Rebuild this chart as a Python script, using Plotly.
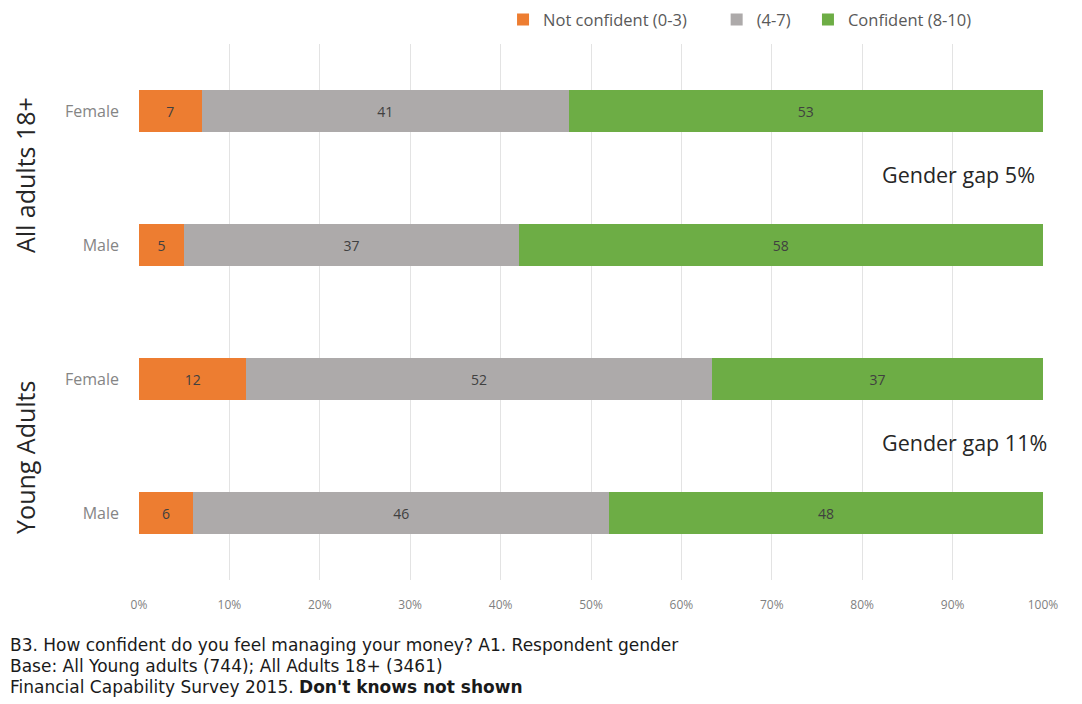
import plotly.graph_objects as go

# Survey responses: share of each confidence band, by group and gender
rows = ["Female", "Male", "Female", "Male"]
not_confident = [7, 5, 12, 6]
middle = [41, 37, 52, 46]
confident = [53, 58, 37, 48]

series = [
    ("Not confident (0-3)", not_confident, "#ED7D31", "legend", 0.4027),
    ("(4-7)", middle, "#ADAAAA", "legend2", 0.639),
    ("Confident (8-10)", confident, "#6DAD45", "legend3", 0.740),
]

group_labels = ["All adults 18+", "Young Adults"]
gap_labels = ["Gender gap 5%", "Gender gap 11%"]
tick_vals = [0, 10, 20, 30, 40, 50, 60, 70, 80, 90, 100]
tick_text = [f"{v}%" for v in tick_vals]

footnotes = [
    "B3. How confident do you feel managing your money? A1. Respondent gender",
    "Base: All Young adults (744); All Adults 18+ (3461)",
    "Financial Capability Survey 2015. <b>Don't knows not shown</b>",
]

positions = list(range(len(rows)))

fig = go.Figure()
legend_layouts = {}
for name, vals, color, legend_id, lx in series:
    fig.add_trace(go.Bar(
        name=name,
        y=positions,
        x=vals,
        orientation="h",
        legend=legend_id,
        marker=dict(color=color, line=dict(width=0)),
        text=[str(v) for v in vals],
        textposition="inside",
        insidetextanchor="middle",
        textangle=0,
        textfont=dict(family="Open Sans", size=14, color="#404040"),
    ))
    legend_layouts[legend_id] = dict(
        orientation="h",
        x=lx, xanchor="left",
        y=1.045, yanchor="middle",
        font=dict(family="Open Sans", size=16.5, color="#595959"),
        bgcolor="rgba(0,0,0,0)",
    )

fig.update_layout(
    barmode="stack",
    barnorm="percent",
    bargap=0.69,
    width=1082,
    height=704,
    margin=dict(l=139, r=39, t=44, b=124, autoexpand=False),
    paper_bgcolor="white",
    plot_bgcolor="white",
    showlegend=True,
    xaxis=dict(
        range=[0, 100],
        tickvals=tick_vals,
        ticktext=tick_text,
        showgrid=True,
        gridcolor="#E3E3E3",
        gridwidth=1,
        zeroline=False,
        showline=False,
        ticks="",
        tickfont=dict(family="Open Sans", size=12, color="#7F7F7F"),
        ticklabelstandoff=16,
        fixedrange=True,
    ),
    yaxis=dict(
        tickvals=positions,
        ticktext=rows,
        range=[3.5, -0.5],
        showgrid=False,
        zeroline=False,
        showline=False,
        ticks="",
        ticklabelstandoff=19,
        tickfont=dict(family="Open Sans", size=16, color="#858585"),
        fixedrange=True,
    ),
    **legend_layouts,
)

# Group labels on the left, rotated
for label, ypos in zip(group_labels, [0.7556, 0.228]):
    fig.add_annotation(
        text=label, xref="paper", yref="paper",
        x=-0.126, y=ypos, xanchor="center", yanchor="middle",
        textangle=-90, showarrow=False,
        font=dict(family="Open Sans", size=25, color="#262626"),
    )

# Gender gap notes on the right
for label, ypos in zip(gap_labels, [0.7556, 0.2556]):
    fig.add_annotation(
        text=label, xref="paper", yref="paper",
        x=0.820, y=ypos, xanchor="left", yanchor="middle",
        showarrow=False,
        font=dict(family="Open Sans", size=21.5, color="#262626"),
    )

# Source notes under the chart
for i, note in enumerate(footnotes):
    fig.add_annotation(
        text=note, xref="paper", yref="paper",
        x=-0.1445, y=(580 - 645 - i * 21) / 536, xanchor="left", yanchor="middle",
        showarrow=False, align="left",
        font=dict(family="DejaVu Sans", size=17, color="#1A1A1A"),
    )

fig.write_html("out.html")
